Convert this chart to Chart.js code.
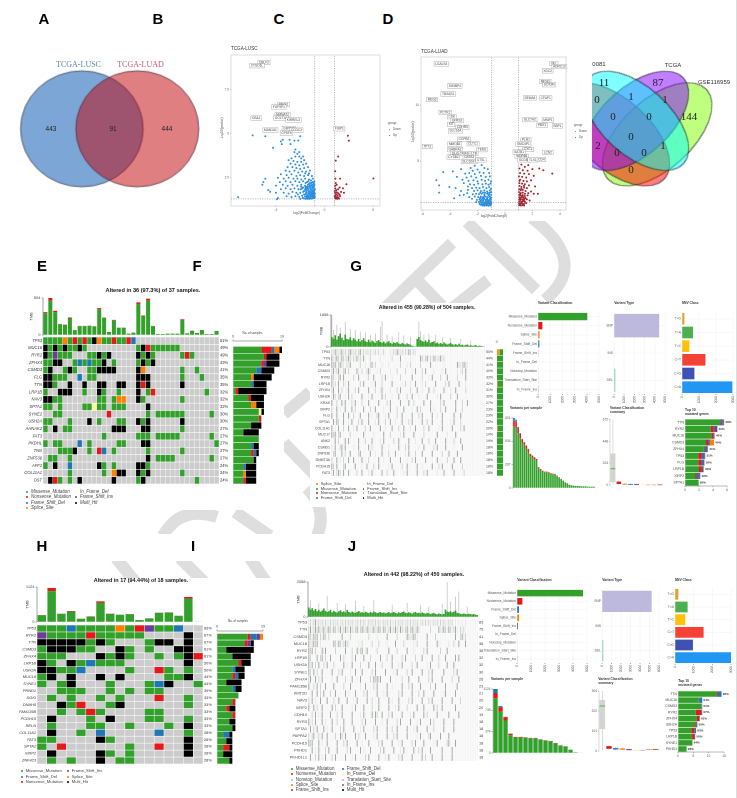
<!DOCTYPE html>
<html><head><meta charset="utf-8">
<script src="https://cdn.jsdelivr.net/npm/chart.js@4"></script>
<style>
html,body{margin:0;padding:0;background:#fff;width:737px;height:798px;overflow:hidden}
#stage{position:relative;width:737px;height:798px;overflow:hidden;filter:blur(.3px)}
#stage canvas{position:absolute}
.t{position:absolute;white-space:nowrap;line-height:1;font-family:"Liberation Sans",Arial,sans-serif}
.w{position:absolute;background:#fff}
</style></head><body><div id="stage">
<svg width="737" height="798" style="position:absolute;left:0;top:0" fill="none" stroke="#dedede" stroke-width="12">
<path d="M467 222L536 290"/><path d="M532 218Q590 262 545 300"/>
<path d="M452 243L383 310"/><path d="M413 276L442 306"/><path d="M488 280L450 310"/>
<path d="M310 392L284 414"/><path d="M284 443L314 474"/>
<path d="M163 536Q180 505 217 517"/><path d="M235 512L270 536"/><path d="M307 488Q328 510 317 536"/>
<path d="M180 558L204 582"/><path d="M250 558L266 582"/><path d="M116 558L137 584"/>
</svg>
<div class="w" style="left:0;top:0;width:737px;height:221px"></div>
<div class="w" style="left:0;top:221px;width:284px;height:79px"></div>
<div class="w" style="left:0;top:280px;width:284px;height:230px"></div>
<div class="w" style="left:310px;top:303px;width:427px;height:204px"></div>
<div class="w" style="left:0;top:534px;width:737px;height:27px"></div>
<div class="w" style="left:0;top:578px;width:737px;height:220px"></div>
<div class="w" style="left:736px;top:0;width:1px;height:798px;background:#ddd"></div>
</div>
<script>
// ---------- Panels A/B venn
const vennABNames=["TCGA-LUSC","TCGA-LUAD"];
const vennABCounts=[443,91,444];
// ---------- Panel D venn
const vennSets=["0081","TCGA","GSE116959"];
const vennCounts=[11,87,0,1,1,144,0,0,0,2,0,0,1,0];
// ---------- Panel C volcano (log2FC, -log10 p)
const lusDown=[[-7.4,4.9],[-6.1,4.85],[-5.3,4.2],[-4.5,4.55],[-4.4,4.4],[-4.3,4.65],[-3.6,4.65],[-3.1,4.6],[-2.7,4.6],[-2.5,4.85],[-3.5,4.4],[-3.0,4.1],[-3.1,3.95],[-2.8,3.85],[-3.0,3.7],[-2.6,3.7],[-3.4,3.6],[-2.4,3.6],[-3.7,3.5],[-3.2,3.45],[-2.8,3.4],[-2.4,3.4],[-2.1,3.5],[-3.5,3.3],[-3.0,3.25],[-2.6,3.2],[-2.2,3.25],[-1.9,3.3],[-3.8,3.1],[-3.3,3.1],[-2.9,3.05],[-2.5,3.0],[-2.1,3.05],[-1.7,3.1],[-4.0,2.9],[-3.6,2.85],[-3.1,2.9],[-2.7,2.8],[-2.3,2.85],[-1.9,2.85],[-1.5,2.9],[-4.5,2.7],[-3.9,2.65],[-3.4,2.7],[-2.9,2.6],[-2.5,2.65],[-2.1,2.6],[-1.7,2.65],[-1.3,2.6],[-6.1,2.45],[-6.3,2.25],[-6.4,2.1],[-4.8,2.5],[-4.2,2.45],[-3.7,2.5],[-3.2,2.45],[-2.8,2.45],[-2.4,2.4],[-2.0,2.45],[-1.6,2.4],[-1.2,2.45],[-4.6,2.25],[-4.0,2.3],[-3.5,2.25],[-3.0,2.3],[-2.6,2.25],[-2.2,2.3],[-1.8,2.25],[-1.5,2.2],[-1.1,2.25],[-5.0,2.05],[-4.3,2.1],[-3.8,2.05],[-3.3,2.1],[-2.8,2.05],[-2.4,2.1],[-2.0,2.05],[-1.7,2.1],[-1.35,2.05],[-1.05,2.1],[-5.8,1.8],[-5.6,1.7],[-5.0,1.65],[-4.5,1.85],[-4.0,1.9],[-3.5,1.85],[-3.1,1.9],[-2.7,1.85],[-2.3,1.9],[-2.0,1.85],[-1.7,1.9],[-1.4,1.85],[-1.2,1.9],[-1.0,1.85],[-8.9,1.4],[-4.8,1.35],[-4.9,1.28],[-4.2,1.65],[-3.7,1.6],[-3.3,1.7],[-2.9,1.65],[-2.5,1.65],[-2.2,1.7],[-1.9,1.65],[-1.6,1.7],[-1.35,1.65],[-1.1,1.7],[-1.0,1.6],[-3.9,1.45],[-3.4,1.4],[-3.0,1.45],[-2.6,1.42],[-2.3,1.48],[-2.0,1.45],[-1.8,1.5],[-1.55,1.45],[-1.3,1.5],[-1.15,1.45],[-1.0,1.45],[-2.1,1.33],[-1.85,1.35],[-1.65,1.33],[-1.45,1.35],[-1.25,1.33],[-1.05,1.35],[-2.4,2.0],[-2.2,1.95],[-1.95,2.0],[-1.8,1.95],[-1.55,2.0],[-1.45,1.95],[-1.2,2.0],[-1.1,1.95],[-1.9,1.75],[-1.7,1.78],[-1.5,1.75],[-1.3,1.78],[-1.15,1.8],[-2.1,1.55],[-1.95,1.58],[-1.75,1.55],[-1.55,1.58],[-1.4,1.55],[-1.25,1.58],[-1.05,1.55],[-1.65,2.3],[-1.4,2.35],[-1.25,2.25],[-1.95,2.2],[-1.75,1.42],[-1.4,1.42],[-1.2,1.4],[-2.0,2.75],[-1.6,2.75],[-2.2,3.7],[-2.6,3.95],[-1.05,2.3],[-1.35,2.2],[-1.6,2.15],[-1.1,2.15],[-1.28,2.12],[-1.5,2.08],[-1.12,2.05],[-1.22,1.95],[-1.4,1.92],[-1.62,1.88],[-1.85,1.85],[-1.05,1.78],[-1.25,1.72],[-1.45,1.68],[-1.65,1.62],[-1.85,1.68],[-1.05,1.65],[-1.18,1.62],[-1.3,1.6],[-1.48,1.55],[-1.7,1.48],[-1.1,1.5],[-1.22,1.5],[-1.4,1.48],[-1.62,1.4],[-1.9,1.42],[-1.02,1.4],[-1.12,1.36],[-1.35,1.32],[-1.55,1.3],[-1.75,1.3],[-1.95,1.3],[-2.25,1.35],[-2.5,1.3],[-2.75,1.55],[-2.45,1.85],[-2.1,1.75],[-1.75,2.0],[-1.95,1.92]];
const lusUp=[[2.4,4.88],[2.5,4.6],[1.4,3.7],[1.15,3.47],[1.1,2.87],[1.6,2.45],[2.25,2.13],[5.03,2.46],[1.12,2.45],[1.15,2.2],[1.1,2.05],[1.25,2.1],[1.55,1.95],[1.1,1.9],[1.2,1.8],[1.4,1.85],[1.7,1.7],[1.1,1.65],[1.25,1.68],[1.4,1.62],[1.55,1.55],[1.1,1.5],[1.2,1.55],[1.35,1.5],[1.6,1.45],[1.1,1.38],[1.25,1.4],[1.4,1.38],[1.15,1.32],[1.3,1.3],[1.5,1.32],[1.05,1.75],[1.05,1.45],[1.9,1.9],[2.0,1.65]];
const lusLabels=[["CRLF2",-6.25,9.02],["CTSO1L",-6.96,8.84],["MEIS1",-4.22,6.64],["FGF9P1",-4.7,6.51],["NMNAT2",-4.32,6.07],["GOLT1A",-4.49,5.88],["KIRREL3",-3.21,5.77],["DSA1",-7.03,5.88],["MAN1A1",-5.57,5.2],["GRTM2",-3.68,5.29],["CCDC3",-2.9,5.2],["CPSF6",-3.92,5.03],["FSIP1",1.52,5.27]];
// ---------- Panel D volcano
const luadDown=[[-4.5,4.03],[-3.8,4.1],[-4.8,2.85],[-4.05,2.7],[-4.8,2.2],[-3.2,4.3],[-2.9,3.9],[-3.5,3.6],[-3.1,3.35],[-3.6,2.6],[-3.2,2.35],[-2.75,2.15],[-3.3,1.95],[-3.7,1.7],[-2.5,4.4],[-2.2,4.6],[-1.7,4.65],[-2.35,4.15],[-2.0,4.25],[-1.5,4.4],[-1.25,4.3],[-2.6,3.95],[-2.2,3.85],[-1.85,4.0],[-1.55,3.95],[-1.15,3.95],[-2.8,3.55],[-2.45,3.65],[-2.1,3.55],[-1.75,3.7],[-1.4,3.6],[-1.1,3.65],[-2.65,3.25],[-2.3,3.3],[-2.0,3.2],[-1.7,3.35],[-1.45,3.25],[-1.2,3.35],[-1.02,3.2],[-2.55,2.95],[-2.25,2.9],[-1.95,3.0],[-1.65,2.95],[-1.4,3.0],[-1.2,2.9],[-1.05,3.0],[-2.4,2.6],[-2.1,2.65],[-1.85,2.6],[-1.6,2.7],[-1.35,2.6],[-1.15,2.7],[-1.02,2.55],[-2.7,2.45],[-2.25,2.35],[-2.0,2.4],[-1.75,2.35],[-1.5,2.4],[-1.3,2.3],[-1.1,2.4],[-1.0,2.25],[-2.35,2.05],[-2.1,2.1],[-1.9,2.05],[-1.7,2.1],[-1.5,2.05],[-1.3,2.1],[-1.15,2.05],[-1.0,2.0],[-2.6,1.8],[-2.2,1.85],[-1.95,1.8],[-1.75,1.85],[-1.6,1.8],[-1.4,1.85],[-1.25,1.8],[-1.1,1.85],[-1.0,1.75],[-2.05,1.55],[-1.85,1.6],[-1.7,1.55],[-1.55,1.6],[-1.4,1.55],[-1.3,1.6],[-1.15,1.55],[-1.03,1.6],[-2.1,1.35],[-1.9,1.38],[-1.75,1.35],[-1.6,1.38],[-1.45,1.35],[-1.3,1.38],[-1.2,1.35],[-1.08,1.38],[-1.0,1.35],[-1.85,1.2],[-1.7,1.18],[-1.55,1.2],[-1.4,1.18],[-1.25,1.2],[-1.12,1.18],[-1.0,1.2],[-1.65,1.05],[-1.5,1.03],[-1.35,1.05],[-1.2,1.03],[-1.05,1.05],[-1.5,1.9],[-1.2,1.95],[-1.08,1.7],[-1.3,1.7],[-1.5,1.7],[-1.65,1.7],[-1.8,1.72],[-1.1,2.2],[-1.25,2.18],[-1.45,2.2],[-1.6,2.22],[-1.8,2.2],[-1.05,1.48],[-1.22,1.47],[-1.38,1.46],[-1.58,1.48],[-1.78,1.46],[-1.15,1.28],[-1.33,1.28],[-1.5,1.28],[-1.68,1.28],[-1.06,1.28],[-1.1,1.12],[-1.3,1.12],[-1.48,1.12],[-1.62,1.12],[-1.78,1.12],[-3.0,3.05],[-2.7,2.75],[-3.0,2.0],[-2.4,1.65],[-5.0,3.3]];
const luadUp=[[2.8,4.2],[3.45,3.9],[2.4,2.1],[2.2,2.75],[1.2,4.7],[1.45,4.5],[1.7,4.65],[1.05,4.35],[1.3,4.2],[1.65,4.15],[2.0,4.3],[2.5,4.35],[1.1,3.95],[1.4,3.9],[1.75,3.85],[2.1,3.7],[1.02,3.65],[1.25,3.6],[1.55,3.55],[1.9,3.3],[1.1,3.35],[1.35,3.25],[1.6,3.2],[1.05,3.05],[1.25,3.0],[1.45,2.95],[1.75,2.85],[1.05,2.8],[1.2,2.7],[1.4,2.65],[1.6,2.6],[1.05,2.5],[1.15,2.4],[1.3,2.45],[1.5,2.35],[1.9,2.3],[1.02,2.25],[1.15,2.15],[1.3,2.2],[1.45,2.1],[1.7,2.15],[1.03,2.0],[1.15,1.95],[1.3,1.98],[1.45,1.9],[1.65,1.95],[1.05,1.8],[1.18,1.75],[1.32,1.8],[1.5,1.72],[2.1,2.1],[1.03,1.6],[1.15,1.55],[1.28,1.6],[1.42,1.55],[1.6,1.6],[1.05,1.42],[1.18,1.38],[1.3,1.42],[1.45,1.38],[1.03,1.25],[1.12,1.2],[1.25,1.25],[1.38,1.2],[1.55,1.25],[1.04,1.08],[1.15,1.05],[1.28,1.08],[1.4,1.05],[1.8,1.5],[1.05,3.25],[1.2,2.55],[1.38,2.8],[1.1,2.05],[1.25,1.85],[1.4,1.7],[1.1,1.65],[1.22,1.3],[1.35,1.5],[1.1,1.12]];
const luadLabels=[["LGALS4",-4.64,13.68],["SH3BP4",-3.66,11.71],["TBXAS1",-4.14,11.0],["REG3",-5.31,10.5],["PCTK2",-4.35,9.35],["CSK",-3.88,8.97],["SFRS2",-3.49,8.62],["KIT",-3.92,8.29],["CDHR3",-3.11,8.03],["SLC16A",-3.61,7.71],["CCPB2",-2.99,6.97],["CLTC1",-2.32,6.56],["MMOB1",-3.66,6.53],["TP73",-5.67,6.32],["GABRA1",-3.64,6.03],["TEM1",-1.67,6.03],["DLG5",-3.56,5.68],["CMAS",-2.97,5.68],["LTB",-2.25,5.68],["CYSB2",-3.76,5.38],["GATA3",-2.61,5.35],["SLC16A7",-2.61,4.97],["CTSL",-1.75,5.12],["VEL",3.56,13.71],["ADRC10",3.97,13.44],["XDC2",3.11,13.06],["MFSD",2.94,12.12],["SOX9N",3.23,11.82],["SEMA5",1.82,10.65],["CFAP1",2.97,10.65],["SLC7A2",1.82,8.71],["MMP1",3.13,8.68],["PBX1",2.7,8.21],["SBP1",3.83,8.15],["PLB1",1.53,6.91],["SMC4P1",1.34,6.53],["CXCL",1.7,6.06],["LCN2",3.13,5.79],["SATB1",1.03,5.82],["WDR66",1.22,5.44],["SCGB",1.34,5.12],["TLX1",2.03,5.12],["CD4",2.66,5.15]];
// ---------- Panels E/F oncoplot
const genesE=["TP53","MUC16","RYR2","ZFHX4","CSMD3","FLG","TTN","LRP1B","NAV3","SPTA1","SYNE2","USH2A","AHNAK2","FAT3","PKDHL","TNN","ZNF536","AFF2","COL11A1","DST"];
const pctE=["51%","49%","49%","43%","41%","35%","35%","32%","32%","32%","30%","30%","27%","27%","27%","27%","27%","24%","24%","24%"];
const cellsE=["MMMMSMNMNMHSMMNMMNF.................","HMHMHMMHM..........MHNMMMMMM........","HMXMMM...MMHMH.....HMHM.....MNM.....","MMHH..MFMFMMH.M....MHMH.............","MH..MHM..MMHHHH....HS.......M..M....","HHMMM..F.MM........HHH......M...M...","HHM..H..H..HH..HH..HNH......H.......","M..HHH..M..HM..M...H.MN..........M..","HHMM.......MM.MSS..HM.......M.......","MM.M....MMIMM.MMM....H..............","..MM.........N.......M.MMMMMM.....M.","MM...M...H.M...MM..HMH......H.......","M.H.MM........HHH...HH......M.......","............M......MMM.MMMMM......M.","M.MM...F.M.....MM...HH.............M","...MMMH..M.NF.M......M......M.......",".MM..M...............H.MMMM.......M.","M.H..F.....HM.M....HHM..............",".....M......M.SHH..HMH......M.......",".HNM.M.H......H....MH..........M...."];
const tmbETotal=[367,594,389,178,167,281,81,146,146,151,140,432,281,49,243,119,119,22,38,524,313,583,146,16,16,22,22,22,254,27,70,32,81,16,16,65];
const tmbERed=[16,43,22,5,5,16,3,3,3,3,3,16,5,1,8,3,3,0,0,27,8,32,3,0,0,0,0,0,11,0,0,0,0,0,0,0];
// ---------- Panels H/I oncoplot
const genesH=["TP53","RYR2","TTN","CSMD3","ZFHX4","LRP1B","USH2A","MUC16","SYNE1","PRND1","DGKI","DNAH5","FAM135B","PCDH15","RELN","COL11A1","FAT3","SPTA1","XIRP2","ZNF423"];
const pctH=["83%","67%","67%","61%","61%","50%","50%","44%","44%","39%","33%","33%","33%","33%","33%","28%","28%","28%","28%","28%"];
const cellsH=["MMMFMMMMSMNXMMF..","XMMMMNMMMMM....H.","HHHHHMHM...MHH.H.","MHHHMM..HM.M..HH.","MMM...HMHM..M.MHN","HM.HMFMMM......H.","HHMMF....M..NM.M.","MH.H..H.H....MMH.","M.MH...M...MFH..M","..MMM..M.M.MM....",".M.M..M.M...N..M.","..HMN..MH......M.","..M.MNM....MM....",".H...M.H...MM..M.",".M...MM..M...M.H.",".H..M.F.....F..M.","MM....HM.......H.","M.N......M..N..H.",".H....HM.M.....H.",".M.M..H.MM......."];
const tmbHTotal=[225,1092,268,353,107,182,664,268,236,257,64,118,300,310,203,803,11];
const tmbHRed=[8,100,3,20,2,8,50,8,5,8,1,2,8,8,3,50,0];
// ---------- Panel G oncoplot (dark #, mid +, pale -)
const genesG=["TP53","TTN","MUC16","CSMD3","RYR2","LRP1B","ZFHX4","USH2A","KRAS","XIRP2","FLG","SPTA1","COL11A1","MUC17","ANK2","CSMD1","ZNF536","DNMT3A","PCDH15","FAT3"];
const pctG=["50%","44%","41%","40%","33%","32%","31%","30%","27%","23%","23%","22%","20%","19%","19%","18%","18%","18%","18%","18%"];
const cellsG=["+-#+-+#-+-+#+-+-+#-+-+-+--+-+.-+...--+-#+-+-+-#+-+-","#-+#+-#+-+#+-+-#-+-#...+.....-......+....#.....-.....#+-+#-+-#+-+#-+","#+#-+#+-.+-#.....+..-..+#.+...-...-......+...-.+.....+.....#.......-.......#+-+#+-","+#-+#-.+#.+....#-.+..+#-...-.+.....-...+....+...-.#...+.#....-....-.#......-.-+.#","#+-.+#.#.....+..#....-+..#....+.#...-....+......#.....+...-.#....+...#.....+....#","#-+.#..+-.#......+.#....-.#...+.....#.....-.+..-..#...-.+.....#.....+.#.....#...-","+#..#.+..-#...+.#.....#...+..-#....-...+.#.....+...#..-...#..+.....#...-..#.....+","-#+.+#..-.#.+.....#...-.#.....#.+...-...#....+..#...-....#.....-.#.....+...#.....","#..+..#.#...+.#...+...#.....#....+.#.....#....#..+.....#...#.....+.#......#...+..#","+..#.-..#...#.+....#...+..#....-...#...+...#....-..#.+.....#.-...+..#.....#...+...","#..#...#..#..+...#....#.-..+#...-.#....+..#.....#...+.#.....#..-..#......#...#....",".#.#+..#..-.#...+.#...#...-.#...+..#..-...#...+.#.....#..+..#.....#....-.#...+...","#.-.#..+..#..-.#....+..#.....#..-...#...+..#...-..#....+..#.....-.#.....#....+.#..","#+#.+#.....+.......#.....-.....#...+.....-.#.....#.....+.......#.....-....#.......","..#.+...#.#.....#...+...#....-.#.....+..#.....#...-...#...+...#.....#....+...#....","-.#..+#.#....-..#.....#.+.....#...-.....#...+.#.....-..#.....+.#....#....-....#...",".+#...#.+..#....+#.....#..-...#...+...#.....-.#...+...#.....#.....+...#....#......","+..#.-.+..#..#....#...+.....#..-...#.....#...-..+.#.....#...-..#.....+...#...#....","#+.#...+#.....#...-..#...+..#.....-.#.....+..#.....#..-.....#...+.#.....#.....+...","-#.+#+.#..#....+..#...-.#.....#..+...#.....-.#.....#...+.#.....-...#.....#.....+.."];
const tmbGGreen=[520,430,610,380,560,700,480,350,640,420,390,500,340,460,380,300,420,280,360,450,300,260,380,240,330,280,210,300,360,260,220,280,190,250,300,210,170,240,200,260,180,150,210,170,130,190,150,110,60,40,30,420,520,360,300,270,340,250,380,220,260,300,190,230,170,210,150,240,180,130,170,210,140,120,150,100,170,90,120,80,110,130,70,90,60,80,100,50,70,60,40,30];
const tmbGSpikeCols=[0,1,3,5,8,11,14,17,20,23,26,29,30,33,36,40,43,47,52,53,55,58,62,66,71,77,83];
const tmbGSpikeVals=[1658,900,1150,1000,1300,950,880,800,760,620,700,1050,1350,640,560,780,600,520,1300,800,650,700,620,520,480,420,330];
const sideGOrange=[5,0,0,0,0,1,0,0,0,0,0,0,1,0,0,0,0,0,0,0];
const sideGGreen=[5,10,10,10,10,9,10,10,10,10,10,10,9,10,10,10,10,10,10,10];
// ---------- Panel J oncoplot
const genesJ=["TP53","TTN","CSMD3","MUC16","RYR2","LRP1B","USH2A","SYNE1","ZFHX4","FAM135B","KMT2D","NAV3","XIRP2","CDH10","RYR3","SPTA1","PAPPA2","PCDH15","PKHD1","PKHD1L1"];
const pctJ=["83","75","41","38","38","32","32","30","26","23","21","20","20","19","18","18","18","18","18","18"];
const cellsJ=["-+-+#-+-+-+--+-+-+--+-+-+-+--+-+-+--+-+-+-+--+-+-+--+-+-+--+-+-+-+--+-+-+--+-+-+-+--+-+.-.-.-.-.","+#-+#+#-+#-+#+-#+-+#-+#+-#+-+#-+#+-#+-+#-+#+-#+-+#-+#+-#+-+#-+#+-#+......+....#-+#+-#+-+#-.+-+","#+-#+#.+-#+.+.......#....+..........+....-.....#.....+.....#+-+#+-.....#....+...........#..+#-+...","#-+#+#.-.......#+-#+-+#+-.....-.+.....+...+....-....#....+.....-.+.....#.....#-.....-..+..#...#..","#+#.+...#-#.....+.....#...+..#-+#.-#.....+......#....+.....#...-.....+.#.......+...#...........","#+...#.+#.+..#.....#.+....+.#....#...+.....#...+..#.....+.#.....+...#.....#...+...#.....#.#.....","#-#.+.#..+.#...+.....#.-..#....+....#...#...+.....#...-.#.....+..#.....-.#....+....#...#.......","#+.#.+..#.....#...+.#....-..#...#.....+.#.....#....-.#.....+..#.....#...+.#......#.....+.#.....","+#..#.+.#.....-..#....+...#..-.#.....+.#+#+#.....#......+...#.....#.....+.#.....#.....+...#....","#..+.#.+..#....#.....+...#.....-..#....+.#.....#..-.....#...+.#....#.....+..#.....#......#.....","..#..#.+.#...+..#.....#.-...#....+.#.....#...-.#......+.#.....#...+..#.....#.....-#.....#......","+.#.-..#...#...+..#....#...-.#.....#..+...#.....#.-...#.....+.#.....#...+.#.....#.....#....+...","#..#.+..#.....#.+...#.....-.#....#....+...#.....#...-.#....+.....#...#.....#.+..#.......#......","..+.#.-.#....#...+..#.....#....-.#....#.#+..#...+.#.....#....-.#.....#.+.....#......#.....#....","#.+.#...#.-...#..+...#....#.....+.#.....#...-..#.....+.#.....#...-.#.....#.+.....#.....#.......",".#.+.#...#.-..#....+.#.....#...-.#.....+.#.....#..+..#.....#...-.#.....#...+.....#.....#......","+.+#.-+.#..#....+..#+.#.....#.+...#....-.#.....#...+.#.....#.....-.#....+#.....#....#..........","#+#...#.-..#.....#...+.#.....#..-...#.....+.#.....#...-.#.....+.#....#.....-.#.....+#...#......","..#.-.#...+.#....#.....+.#.....#.-...#.....+.#.....#...-.#.....#..+.#....#......#.....#........",".#..+.#.-.#...+.#.....#...-.#.....+.#.....#...-.#.....+.#.....#.....#.+...#.....#.....#........"];
const tmbJGreen=[560,430,520,380,470,340,420,310,390,500,360,300,340,420,280,360,300,260,340,390,290,330,270,420,300,250,320,270,240,300,350,260,280,240,310,270,230,290,250,320,280,230,260,300,240,270,220,250,290,230,260,300,240,210,270,230,290,320,250,220,280,240,200,260,300,230,250,210,270,230,190,240,220,170,210,240,190,160,210,180,150,180,440,320,290,340,270,310,380,250,220,190,170,210,180,160,190,170,150,180,140,120];
const tmbJSpikeCols=[1,6,11,17,22,28,33,39,50,59,67,72,80,83,85,88,90,95];
const tmbJSpikeVals=[1000,800,1250,820,750,950,650,1000,720,830,700,620,780,2050,900,1200,1500,620];
// ---------- Classification / type / SNV bars
const classG=["Missense_Mutation","Nonsense_Mutation","Splice_Site","Frame_Shift_Del","Frame_Shift_Ins","In_Frame_Del","Nonstop_Mutation","Translation_Start_Site","In_Frame_Ins"];
const classGVal=[4040,360,130,110,30,15,6,5,3];
const classJ=["Missense_Mutation","Nonsense_Mutation","Frame_Shift_Del","Splice_Site","Frame_Shift_Ins","In_Frame_Del","Nonstop_Mutation","Translation_Start_Site","In_Frame_Ins"];
const classJVal=[4714,381,143,143,71,15,8,6,3];
const typeNames=["SNP","INS","DEL"];
const typeGVal=[4430,10,130];
const typeJVal=[5228,10,140];
const snvNames=["T>G","T>A","T>C","C>T","C>G","C>A"];
const snvGVal=[140,650,435,1380,730,2960];
const snvJVal=[178,676,551,1532,960,3000];
// ---------- Variants per sample
const varGTotal=[801,782,698,629,563,525,487,448,391,372,353,333,238,218,199,188,188,180,169,165,161,142,123,103,84,65,54,38,31,27,23,23,23,19,19,19,15,15,15,15];
const varGRed=[70,70,60,50,40,35,35,30,25,22,20,18,12,12,10,8,8,8,8,6,6,5,5,4,3,3,2,1,1,0,0,0,0,0,0,0,0,0,0,0];
const varGBlue=[30,25,10,8,6,5,5,4,3,3,2,2,1,1,1,1,1,1,1,1,1,1,0,0,0,0,0,0,0,0,0,0,0,0,0,0,0,0,0,0];
const varJTotal=[1124,824,636,341,283,283,277,265,265,241,224,212,177,135,118,59,12,6];
const varJRed=[90,80,60,25,8,8,8,6,6,6,6,6,5,5,4,2,0,0];
const varJBlue=[70,20,6,4,2,2,2,2,2,2,1,1,1,1,1,0,0,0];
// ---------- Classification summaries: [low, q1, median, q3, high]
const sumG=[[0,31,167,324,672],[4,10,20,38,46],[2,4,8,14,20],[2,3,6,11,16],[1,2,4,9,14],[0,1,2,3,5],[0,0,1,2,3],[0,0,1,2,3],[0,1,2,4,6]];
const sumJ=[[0,110,228,258,304],[4,11,18,26,30],[3,7,11,16,20],[3,6,11,14,18],[2,4,7,10,14],[0,1,2,4,6],[1,2,3,5,7],[2,5,8,11,13],[3,6,8,11,14]];
// ---------- Top-10 genes stacks
const topGGenes=["TTN","RYR2","MUC16","CSMD3","ZFHX4","TP53","FLG","LRP1B","XIRP2","SPTA1"];
const topGPct=["38%","40%","40%","40%","41%","31%","30%","30%","32%","26%"];
const topGGreen=[5.0,3.7,3.8,3.0,2.7,1.9,1.9,2.0,1.5,1.95];
const topGRed=[0.1,0.4,0.25,0.35,0.1,0.5,0.45,0.35,0.2,0];
const topGBlue=[0.3,0.1,0.1,0.2,0.35,0.35,0.3,0.15,0.35,0];
const topGPurple=[0.1,0.4,0.05,0.05,0.05,0.1,0.1,0.1,0.1,0];
const topGOrange=[0.1,0.03,0.04,0.55,0.1,0.05,0.05,0.1,0.05,0];
const topJGenes=["TTN","MUC16","CSMD3","RYR2","ZFHX4","USH2A","TP53","LRP1B","SYNE1","PKHD1"];
const topJPct=["83%","64%","61%","67%","61%","50%","83%","50%","44%","28%"];
const topJGreen=[12.6,6.8,7.6,5.8,6.2,5.6,4.3,4.6,4.7,2.8];
const topJRed=[0.4,0.1,0.1,1.8,0.8,0.4,1.0,0.8,0,0];
const topJBlue=[1.2,1.0,0.2,0.3,0.1,0.3,0.6,0.2,0,0];
// ---------- Legends
const legE=[["Missense_Mutation","Nonsense_Mutation","Frame_Shift_Del","Splice_Site"],["In_Frame_Del","Frame_Shift_Ins","Multi_Hit"]];
const legG=[["Splice_Site","Missense_Mutation","Nonsense_Mutation","Frame_Shift_Del"],["In_Frame_Del","Frame_Shift_Ins","Translation_Start_Site","Multi_Hit"]];
const legH=[["Missense_Mutation","Frame_Shift_Del","Nonsense_Mutation"],["Frame_Shift_Ins","Splice_Site","Multi_Hit"]];
const legJ=[["Missense_Mutation","Nonsense_Mutation","Nonstop_Mutation","Splice_Site","Frame_Shift_Ins"],["Frame_Shift_Del","In_Frame_Del","Translation_Start_Site","In_Frame_Ins","Multi_Hit"]];

// ========== drawing helpers ==========
const stage=document.getElementById('stage');
const FONT='"Liberation Sans",Arial,sans-serif';
Chart.defaults.font.family=FONT;
Chart.defaults.animation=false;
Chart.defaults.plugins.legend.display=false;
Chart.defaults.plugins.tooltip.enabled=false;
const C={Missense_Mutation:'#33a02c',Nonsense_Mutation:'#e31a1c',Frame_Shift_Del:'#1f78b4',Frame_Shift_Ins:'#6a3d9a',Splice_Site:'#ff7f00',In_Frame_Del:'#ffff99',In_Frame_Ins:'#b15928',Nonstop_Mutation:'#cab2d6',Translation_Start_Site:'#fb9a99',Multi_Hit:'#000000'};
const CODE={M:C.Missense_Mutation,N:C.Nonsense_Mutation,F:C.Frame_Shift_Del,X:C.Frame_Shift_Ins,S:C.Splice_Site,I:C.In_Frame_Del,H:C.Multi_Hit};
const SNVC=['#e8a02c','#4caf50','#ffc107','#f44336','#3f51b5','#2196f3'];
function T(x,y,s,o={}){const e=document.createElement('div');e.className='t';e.textContent=s;
 e.style.left=x+'px';e.style.top=y+'px';e.style.fontSize=(o.size||4)+'px';
 if(o.bold)e.style.fontWeight='bold';if(o.italic)e.style.fontStyle='italic';if(o.family)e.style.fontFamily=o.family;
 e.style.color=o.color||'#222';
 const a=o.align==='l'?'0':o.align==='r'?'-100%':'-50%';
 e.style.transform=`translate(${a},-50%)`+(o.rot?` rotate(${o.rot}deg)`:'');e.style.zIndex=5;stage.appendChild(e);return e;}
function dot(x,y,c,r=1){const e=document.createElement('div');e.style.cssText=`position:absolute;left:${x-r}px;top:${y-r}px;width:${2*r}px;height:${2*r}px;border-radius:50%;background:${c};z-index:5`;stage.appendChild(e);}
function legend(items,cols,ys,size,italic){items.forEach((col,k)=>col.forEach((n,i)=>{dot(cols[k]-3.8,ys[i],C[n],.9);T(cols[k],ys[i],n,{size,italic,align:'l',color:'#444'});}));}
function axis(pos,size,min,max,vals,labels,o={}){return{type:'linear',position:pos,min,max,reverse:!!o.reverse,offset:false,stacked:!!o.stacked,
 grid:{display:!!(o.grid||o.tick),color:o.grid||'#555',drawOnChartArea:!!o.grid,drawTicks:!!o.tick,tickLength:o.tick||0,tickColor:'#555',tickWidth:.5,lineWidth:.5,offset:false},
 border:{display:!!o.line,color:o.line||'#333',width:.5},
 title:o.title?{display:true,text:o.title,font:{size:o.font||4},padding:0,color:'#333'}:{display:false},
 ticks:{display:!!(vals&&vals.length),autoSkip:false,padding:o.pad===undefined?1:o.pad,color:o.color||'#444',maxRotation:o.rot||0,minRotation:o.rot||0,
  font:{size:o.font||4,style:o.italic?'italic':'normal'},callback:(v,i)=>labels?labels[i]:String(v)},
 afterBuildTicks(s){s.ticks=(vals||[]).map(v=>({value:v}));},
 afterFit(s){if(s.isHorizontal())s.height=size;else s.width=size;s.paddingLeft=s.paddingRight=s.paddingTop=s.paddingBottom=0;}};}
function plot(p,m,cfg){const c=document.createElement('canvas');const w=Math.round(p.w+m.l+m.r),h=Math.round(p.h+m.t+m.b);
 c.width=w;c.height=h;c.style.left=(p.x-m.l)+'px';c.style.top=(p.y-m.t)+'px';c.style.width=w+'px';c.style.height=h+'px';stage.appendChild(c);
 cfg.options=Object.assign({responsive:false,maintainAspectRatio:false,devicePixelRatio:2,layout:{padding:{top:m.t,bottom:m.b0||0,left:m.l0||0,right:m.r0||0}}},cfg.options||{});
 return new Chart(c,cfg);}
const idx=n=>Array.from({length:n},(_,i)=>i);
const frame=col=>({id:'frame',beforeDatasetsDraw(ch){const a=ch.chartArea,x=ch.ctx;x.save();x.strokeStyle=col;x.lineWidth=1;x.strokeRect(a.left,a.top,a.width,a.height);x.restore();}});
const boxLabels=list=>({id:'boxes',afterDatasetsDraw(ch){const x=ch.ctx;x.save();x.font=`3.2px ${FONT}`;x.textAlign='center';x.textBaseline='middle';
 list.forEach(([t,vx,vy])=>{const px=ch.scales.x.getPixelForValue(vx),py=ch.scales.y.getPixelForValue(vy),w=x.measureText(t).width+2.4;x.fillStyle='#fff';x.strokeStyle='#999';x.lineWidth=.4;x.fillRect(px-w/2,py-2.2,w,4.4);x.strokeRect(px-w/2,py-2.2,w,4.4);x.fillStyle='#444';x.fillText(t,px,py);});x.restore();}});
const endLabels=(pcts,totals,size)=>({id:'ends',afterDatasetsDraw(ch){const x=ch.ctx;x.save();x.font=`bold ${size}px ${FONT}`;x.fillStyle='#333';x.textBaseline='middle';
 pcts.forEach((t,i)=>x.fillText(t,ch.scales.x.getPixelForValue(totals[i])+1.2,ch.scales.y.getPixelForValue(i)));x.restore();}});
function pairs(a){return a.map(([x,y])=>({x,y}));}

// ---- venn ellipse sprite
function sprite(a,b,fill,stroke){const c=document.createElement('canvas');c.width=Math.ceil(2*a+4);c.height=Math.ceil(2*b+4);const x=c.getContext('2d');
 x.beginPath();x.ellipse(c.width/2,c.height/2,a,b,0,0,2*Math.PI);x.fillStyle=fill;x.fill();x.strokeStyle=stroke;x.lineWidth=.8;x.stroke();return c;}
function vennChart(p,xr,yr,points){plot(p,{l:0,t:0,r:0,b:0},{type:'scatter',data:{datasets:points.slice().reverse().map(q=>({data:[{x:q.x,y:q.y}],pointStyle:sprite(q.a,q.b,q.fill,q.stroke),pointRadius:10,pointRotation:q.rot||0,clip:false}))},
 options:{scales:{x:axis('bottom',0,xr[0],xr[1]),y:axis('left',0,yr[0],yr[1],[],null,{reverse:true})}}});}

// ---- panels A/B
vennChart({x:0,y:40,w:220,h:180},[0,220],[40,220],[{x:78.7,y:128.7,a:61.3,b:58,fill:'#7ba6d6',stroke:'#445'},{x:140.3,y:128.7,a:61.5,b:58,fill:'rgba(193,0,5,.5)',stroke:'#534'}]);
T(78.5,64.5,vennABNames[0],{size:8,family:'"Liberation Serif",serif',color:'#5f86a8'});
T(140.5,64.5,vennABNames[1],{size:8,family:'"Liberation Serif",serif',color:'#c95b6e'});
T(51,129,vennABCounts[0],{size:6.5,color:'#222'});T(113,129,vennABCounts[1],{size:6.5,color:'#222'});T(167,129,vennABCounts[2],{size:6.5,color:'#222'});
[['A',44,18],['B',158,18],['C',279,18],['D',388,18],['E',42,265],['F',197,265],['G',356,265],['H',42,545],['I',193,545],['J',352,545]].forEach(([s,x,y])=>T(x,y,s,{size:15,bold:true,color:'#000'}));

// ---- panel D venn (clipped at the left by its canvas)
vennChart({x:592,y:50,w:144,h:140},[592,736],[50,190],[
 {x:656,y:137,a:66.7,b:35,rot:-42,fill:'rgba(128,255,0,.5)',stroke:'#222'},
 {x:606,y:137,a:66.7,b:35,rot:42,fill:'rgba(255,0,0,.5)',stroke:'#222'},
 {x:631,y:121,a:64,b:34,rot:-42,fill:'rgba(128,0,255,.5)',stroke:'#222'},
 {x:631,y:121,a:64,b:34,rot:42,fill:'rgba(0,255,255,.5)',stroke:'#222'}]);
const vennPos=[[604,82],[658,82],[597,99],[631,96],[665,99],[689,116],[613,116],[649,116],[631,136],[598,145],[617,152],[644,152],[663,145],[631,169]];
vennPos.forEach(([x,y],i)=>T(x,y,vennCounts[i],{size:11,family:'"Liberation Serif",serif',color:'#222'}));
T(599,64,vennSets[0],{size:6,color:'#333'});
T(673,64.7,vennSets[1],{size:6,color:'#333'});T(714,81.7,vennSets[2],{size:6,color:'#333'});

// ---- volcano
function volcano(p,title,tx,xr,yr,xv,yv,dn,up,labels,ylab,xlab,leg){
 const vline=v=>({data:[{x:v,y:yr[0]},{x:v,y:yr[1]}],showLine:true,pointRadius:0,borderColor:'#777',borderWidth:.5,borderDash:[1.2,1.2]});
 const hline=v=>({data:[{x:xr[0],y:v},{x:xr[1],y:v}],showLine:true,pointRadius:0,borderColor:'#777',borderWidth:.5,borderDash:[1.2,1.2]});
 plot(p,{l:8,t:2,r:2,b:8,r0:2},{type:'scatter',data:{datasets:[vline(-1),vline(1),hline(1.3),
  {data:pairs(dn),pointRadius:1,pointBorderWidth:0,backgroundColor:'#2a8fe3'},{data:pairs(up),pointRadius:1,pointBorderWidth:0,backgroundColor:'#a3222f'}]},
  options:{scales:{x:axis('bottom',8,xr[0],xr[1],xv,null,{font:3.2,tick:1,color:'#666'}),y:axis('left',8,yr[0],yr[1],yv,null,{font:3.2,tick:1,color:'#666'})}},plugins:[frame('#dddddd'),boxLabels(labels)]});
 T(tx,p.y-3.3,title,{size:4.6,align:'l',color:'#333'});
 T(ylab[0],ylab[1],'-log10(pvalue)',{size:3.3,rot:-90,color:'#555'});T(xlab[0],xlab[1],'log2(FoldChange)',{size:3.3,color:'#555'});
 T(leg[0],leg[1],'group',{size:3.3,align:'l',color:'#555'});dot(leg[0]+1.3,leg[1]+5.4,'#2a8fe3',.5);dot(leg[0]+1.3,leg[1]+11,'#a3222f',.5);
 T(leg[0]+5,leg[1]+5.4,'Down',{size:3,align:'l',color:'#555'});T(leg[0]+5,leg[1]+11,'Up',{size:3,align:'l',color:'#555'});}
volcano({x:231,y:52.7,w:151.3,h:153.3},'TCGA-LUSC',231,[-9.63,5.71],[.9,9.45],[-5,0,5],[2.5,5,7.5],lusDown,lusUp,lusLabels,[222.5,128],[306.7,213.7],[388,124]);
volcano({x:421,y:55,w:147.3,h:155},'TCGA-LUAD',421,[-6.12,4.45],[.65,14.3],[-6,-4,-2,0,2,4],[5,10],luadDown,luadUp,luadLabels,[414,131.7],[494,217],[574,126]);

// ---- oncoplot helpers
function heat(p,rows,genes,pcts,n,o){const cells=[];rows.forEach((r,ri)=>{for(let i=0;i<n;i++){const ch=r[i]||'.';cells.push({x:i,y:[ri+.04,ri+.96],c:ch==='.'?'#cccccc':CODE[ch]});}});
 plot(p,{l:o.l,t:1,r:o.r,b:1,b0:1},{type:'bar',data:{datasets:[{data:cells.map(c=>({x:c.x,y:c.y})),backgroundColor:cells.map(c=>c.c),barPercentage:o.bp,categoryPercentage:1,inflateAmount:0}]},
 options:{scales:{x:axis('bottom',0,-.5,n-.5),y:axis('left',o.l,0,rows.length,idx(rows.length).map(i=>i+.5),genes,{reverse:true,italic:true,font:o.font,color:'#333'}),yr:axis('right',o.r,0,rows.length,idx(rows.length).map(i=>i+.5),pcts,{reverse:true,font:o.font,color:'#333'})}}});}
function tmb(p,total,red,ymax,label,o){const g=total.map((v,i)=>({x:i,y:v-red[i]})),r=red.map((v,i)=>({x:i,y:v}));
 plot(p,{l:o.l,t:3,r:1,b:2,r0:1,b0:0},{type:'bar',data:{datasets:[{data:g,backgroundColor:C.Missense_Mutation,barPercentage:.96,categoryPercentage:o.cp,inflateAmount:0},{data:r,backgroundColor:C.Nonsense_Mutation,barPercentage:.96,categoryPercentage:o.cp,inflateAmount:0}]},
 options:{scales:{x:axis('bottom',2,-.5,total.length-.5,[],null,{stacked:true}),y:axis('left',o.l,0,ymax,[0,ymax],null,{stacked:true,font:4,line:'#444',tick:1.5,title:'TMB'})}}});}
function sideStack(p,rows,extra,max,o){const keys=['M','N','F','X','S','I','H'];
 const sets=keys.map(k=>({data:rows.map((r,i)=>({x:[...r].filter(c=>c===k).length,y:i})),backgroundColor:CODE[k],barPercentage:.92,categoryPercentage:1,inflateAmount:0}));
 plot(p,{l:1,t:9,r:5,b:1,r0:5,b0:1},{type:'bar',data:{datasets:sets},options:{indexAxis:'y',scales:{x:axis('top',9,0,max,[0,max],null,{stacked:true,font:3.6,line:'#555',tick:1.5}),y:axis('left',1,-extra-.5,rows.length-.5,[],null,{reverse:true,stacked:true})}}});}
function stripes(p,rows,genes,pcts,n,o){const bg=idx(n).map(i=>({x:i,y:[0,rows.length]}));const shade={'#':'#a2a8a2','+':'#d0d3d0','-':'#e7e9e7'};const cells=[];
 rows.forEach((r,ri)=>{for(let i=0;i<Math.min(n,r.length);i++){if(shade[r[i]])cells.push({x:i,y:[ri+.03,ri+.97],c:shade[r[i]]});}});
 plot(p,{l:o.l,t:1,r:o.r,b:1,b0:1},{type:'bar',data:{datasets:[{data:bg,backgroundColor:'#f4f5f4',barPercentage:.72,categoryPercentage:1,inflateAmount:0,grouped:false,order:2},{data:cells.map(c=>({x:c.x,y:c.y})),backgroundColor:cells.map(c=>c.c),barPercentage:.6,categoryPercentage:1,inflateAmount:0,grouped:false,order:1}]},
 options:{scales:{x:axis('bottom',0,-.5,n-.5),y:axis('left',o.l,0,rows.length,idx(rows.length).map(i=>i+.5),genes,{reverse:true,font:o.font,color:'#444'}),yr:axis('right',o.r,0,rows.length,idx(rows.length).map(i=>i+.5),pcts,{reverse:true,font:o.font,color:'#444'})}}});}
function tmbLines(p,green,cols,vals,ymax,o){const sp=cols.map((c,i)=>({x:c,y:vals[i]}));const gr=green.map((v,i)=>({x:i,y:v}));
 plot(p,{l:o.l,t:3,r:1,b:2,r0:1},{type:'bar',data:{datasets:[{data:sp,backgroundColor:'#b9bdb9',barThickness:.7,grouped:false,order:2,inflateAmount:0},{data:gr,backgroundColor:C.Missense_Mutation,barPercentage:.95,categoryPercentage:1,grouped:false,order:1,inflateAmount:0}]},
 options:{scales:{x:axis('bottom',2,-.5,green.length-.5),y:axis('left',o.l,0,ymax,[0,ymax],null,{font:4,line:'#444',tick:1.5,title:'TMB'})}}});}
function hbar(p,m,names,vals,colors,max,ticks,o={}){plot(p,{l:m.l,t:2,r:2,b:m.b,r0:2},{type:'bar',data:{datasets:[{data:vals.map((v,i)=>({x:v,y:i})),backgroundColor:colors,barPercentage:o.bp||.8,categoryPercentage:1,inflateAmount:0}]},
 options:{indexAxis:'y',scales:{x:axis('bottom',m.b,0,max,ticks,null,{font:3.2,rot:90,tick:1,grid:'#f1f1f1',color:'#555'}),y:axis('left',m.l,-.5,names.length-.5,idx(names.length),names,{reverse:true,font:3.3,grid:'#f1f1f1',color:'#555'})}}});}
function varSample(p,total,red,blue,ymax,ticks,barp){const g=total.map((v,i)=>({x:i,y:v-red[i]-blue[i]}));const wrap=a=>a.map((v,i)=>({x:i,y:v}));
 const ds=(d,c)=>({data:d,backgroundColor:c,barPercentage:1,categoryPercentage:barp,inflateAmount:0});
 plot(p,{l:10,t:3,r:1,b:2,r0:1},{type:'bar',data:{datasets:[ds(g,C.Missense_Mutation),ds(wrap(red),C.Nonsense_Mutation),ds(wrap(blue),C.Frame_Shift_Del)]},
 options:{scales:{x:axis('bottom',2,-.5,total.length-.5,[],null,{stacked:true}),y:axis('left',10,0,ymax,ticks,null,{stacked:true,font:3.2,line:'#999',tick:1.5,color:'#555'})}}});}
function summary(p,s,ymin,ymax,ticks,cols,w){const wh=s.map((v,i)=>({x:i,y:[v[0],v[4]]})),box=s.map((v,i)=>({x:i,y:[v[1],v[3]]})),med=s.map((v,i)=>({x:i,y:[v[2]-(ymax*.006),v[2]+(ymax*.006)]}));
 const boxCols=cols.map((c,i)=>i===0?'#cfd5cf':c);
 plot(p,{l:9,t:3,r:1,b:1,r0:1,b0:1},{type:'bar',data:{datasets:[
  {data:wh,backgroundColor:'#c4c8c4',barThickness:.6,grouped:false,order:3,inflateAmount:0},
  {data:box,backgroundColor:boxCols,borderColor:'#aaa',borderWidth:.3,barPercentage:w,categoryPercentage:1,grouped:false,order:2,inflateAmount:0},
  {data:med,backgroundColor:cols,barPercentage:w,categoryPercentage:1,grouped:false,order:1,inflateAmount:0}]},
 options:{scales:{x:axis('bottom',0,-.5,s.length-.5,idx(s.length),[],{grid:'#f3f3f3'}),y:axis('left',9,ymin,ymax,ticks,null,{font:3.2,line:'#bbb',tick:1,color:'#555'})}}});}
function topBars(p,genes,pcts,stacks,max,ticks,colors){const tot=genes.map((_,i)=>stacks.reduce((a,s)=>a+s[i],0));
 plot(p,{l:13,t:1,r:5,b:7,r0:5},{type:'bar',data:{datasets:stacks.map((s,k)=>({data:s.map((v,i)=>({x:v,y:i})),backgroundColor:colors[k],barPercentage:.9,categoryPercentage:1,inflateAmount:0}))},
 options:{indexAxis:'y',scales:{x:axis('bottom',7,0,max,ticks,null,{stacked:true,font:3.2,line:'#777',tick:1.2,color:'#555'}),y:axis('left',13,-.5,genes.length-.5,idx(genes.length),genes,{reverse:true,stacked:true,font:3.4,color:'#444'})}},plugins:[endLabels(pcts,tot,3)]});}

const SUMC=[C.Missense_Mutation,C.Nonsense_Mutation,C.Splice_Site,C.Frame_Shift_Del,C.Frame_Shift_Ins,C.In_Frame_Del,C.Nonstop_Mutation,C.Translation_Start_Site,C.In_Frame_Ins];
const SUMJ=[C.Missense_Mutation,C.Nonsense_Mutation,C.Frame_Shift_Del,C.Splice_Site,C.Frame_Shift_Ins,C.In_Frame_Del,C.Nonstop_Mutation,C.Translation_Start_Site,C.In_Frame_Ins];

// ---- panels E/F
T(153,291,'Altered in 36 (97.3%) of 37 samples.',{size:5.6,bold:true,color:'#111'});
tmb({x:43.3,y:298.3,w:176,h:36.7},tmbETotal,tmbERed,594,'TMB',{l:14,cp:.86});
heat({x:43.3,y:337.3,w:176,h:146.7},cellsE,genesE,pctE,36,{l:24,r:12,bp:.92,font:4.1});
sideStack({x:232.7,y:331.7,w:49,h:152.3},cellsE,.78,19,{});
T(252.5,333.3,'No. of samples',{size:3,color:'#444'});
legend(legE,[31,80],[491.7,497,502.7,508.3],4.5,true);
// ---- panels H/I
T(141,580.7,'Altered in 17 (94.44%) of 18 samples.',{size:5.4,bold:true,color:'#111'});
tmb({x:37.3,y:587.3,w:166,h:35},tmbHTotal,tmbHRed,1124,'TMB',{l:12,cp:.9});
heat({x:37.3,y:625,w:166,h:139},cellsH,genesH,pctH,17,{l:22,r:12,bp:.95,font:3.9});
sideStack({x:216.7,y:622.3,w:45.7,h:141.7},cellsH,.39,15,{});
T(238,621,'No. of samples',{size:3,color:'#444'});
legend(legH,[25.7,71.7],[771.3,776.7,782],4.2,false);
// ---- panel G
T(427,308.3,'Altered in 455 (90.28%) of 504 samples.',{size:5.2,bold:true,color:'#111'});
tmbLines({x:330.7,y:315,w:153.6,h:32.3},tmbGGreen,tmbGSpikeCols,tmbGSpikeVals,1658,{l:12});
stripes({x:330.7,y:349.3,w:153.6,h:127.4},cellsG,genesG,pctG,92,{l:20,r:12,font:3.5});
plot({x:496.7,y:349.3,w:5.6,h:127.4},{l:0,t:0,r:0,b:0},{type:'bar',data:{datasets:[{data:sideGOrange.map((v,i)=>({x:v,y:i})),backgroundColor:'#f0961e',barPercentage:.92,categoryPercentage:1,inflateAmount:0},{data:sideGGreen.map((v,i)=>({x:v,y:i})),backgroundColor:C.Missense_Mutation,barPercentage:.92,categoryPercentage:1,inflateAmount:0}]},options:{indexAxis:'y',scales:{x:axis('bottom',0,0,10,[],null,{stacked:true}),y:axis('left',0,-.5,19.5,[],null,{reverse:true,stacked:true})}}});
T(496.7,343,'0',{size:3.2,color:'#555'});
legend(legG,[320.7,367.3],[484,488.7,493.3,498.3],4.1,false);
T(538,303.7,'Variant Classification',{size:3.4,bold:true,align:'l',color:'#333'});
T(614.3,303.7,'Variant Type',{size:3.4,bold:true,align:'l',color:'#333'});
T(681.7,303.7,'SNV Class',{size:3.4,bold:true,align:'l',color:'#333'});
hbar({x:537.7,y:311.7,w:60.6,h:81.6},{l:37,b:12},classG,classGVal,SUMC,5000,[0,1000,2000,3000,4000,5000]);
hbar({x:614.3,y:311.7,w:51.3,h:81.6},{l:10,b:12},typeNames,typeGVal,['#bdb9dc','#fff3a0','#8fd0bb'],5000,[0,1000,2000,3000,4000,5000],{bp:.86});
hbar({x:681.7,y:311.7,w:50.7,h:81.6},{l:10,b:12},snvNames,snvGVal,SNVC,3000,[0,1000,2000,3000],{bp:.85});
T(510,408.7,'Variants per sample',{size:3.4,bold:true,align:'l',color:'#333'});
varSample({x:512.7,y:417.7,w:82.3,h:69.7},varGTotal,varGRed,varGBlue,801,[0,267,534,801],.8);
T(610,408.7,'Variant Classification',{size:3.4,bold:true,align:'l',color:'#333'});T(610,412.5,'summary',{size:3.4,bold:true,align:'l',color:'#333'});
summary({x:610,y:419.3,w:53.3,h:67.4},sumG,-10,678,[0,224,448,672],SUMC,.82);
T(685,411,'Top 10',{size:3.4,bold:true,align:'l',color:'#333'});T(685,414.5,'mutated genes',{size:3.4,bold:true,align:'l',color:'#333'});
topBars({x:685,y:419.3,w:41.7,h:66.7},topGGenes,topGPct,[topGGreen,topGRed,topGBlue,topGPurple,topGOrange],6,[0,2,4,6],[C.Missense_Mutation,C.Nonsense_Mutation,C.Frame_Shift_Del,C.Frame_Shift_Ins,C.Splice_Site]);
// ---- panel J
T(414,574.7,'Altered in 442 (98.22%) of 450 samples.',{size:5.4,bold:true,color:'#111'});
tmbLines({x:307.7,y:582.3,w:170.3,h:35},tmbJGreen,tmbJSpikeCols,tmbJSpikeVals,2058,{l:12});
stripes({x:307.7,y:619.3,w:170.3,h:142.4},cellsJ,genesJ,pctJ,102,{l:22,r:8,font:3.9});
legend(legJ,[295.7,346.7],[769,774,779.7,785,790],4.5,false);
T(517.3,581.3,'Variant Classification',{size:3.4,bold:true,align:'l',color:'#333'});
T(602.3,581.3,'Variant Type',{size:3.4,bold:true,align:'l',color:'#333'});
T(674.7,581.3,'SNV Class',{size:3.4,bold:true,align:'l',color:'#333'});
hbar({x:517.3,y:589,w:70,h:74.3},{l:37,b:12},classJ,classJVal,SUMJ,5000,[0,1000,2000,3000,4000,5000]);
hbar({x:602.3,y:589,w:57,h:74.3},{l:10,b:12},typeNames,typeJVal,['#bdb9dc','#fff3a0','#8fd0bb'],6000,[0,1000,2000,3000,4000,5000,6000],{bp:.86});
hbar({x:674.7,y:588,w:56.3,h:76},{l:10,b:12},snvNames,snvJVal,SNVC,3000,[0,1000,2000,3000],{bp:.85});
T(491,680,'Variants per sample',{size:3.4,bold:true,align:'l',color:'#333'});
varSample({x:493.3,y:689,w:90,h:63.7},varJTotal,varJRed,varJBlue,1124,[0,374,749,1124],.87);
T(598.3,680,'Variant Classification',{size:3.4,bold:true,align:'l',color:'#333'});T(598.3,684,'summary',{size:3.4,bold:true,align:'l',color:'#333'});
summary({x:599,y:691.3,w:60.3,h:59.7},sumJ,0,304,[0,101,202,304],SUMJ,.85);
T(678.3,681.7,'Top 10',{size:3.4,bold:true,align:'l',color:'#333'});T(678.3,685.7,'mutated genes',{size:3.4,bold:true,align:'l',color:'#333'});
topBars({x:678.3,y:690.7,w:45.7,h:61},topJGenes,topJPct,[topJGreen,topJRed,topJBlue],15,[0,5,10,15],[C.Missense_Mutation,C.Nonsense_Mutation,C.Frame_Shift_Del]);
</script></body></html>
